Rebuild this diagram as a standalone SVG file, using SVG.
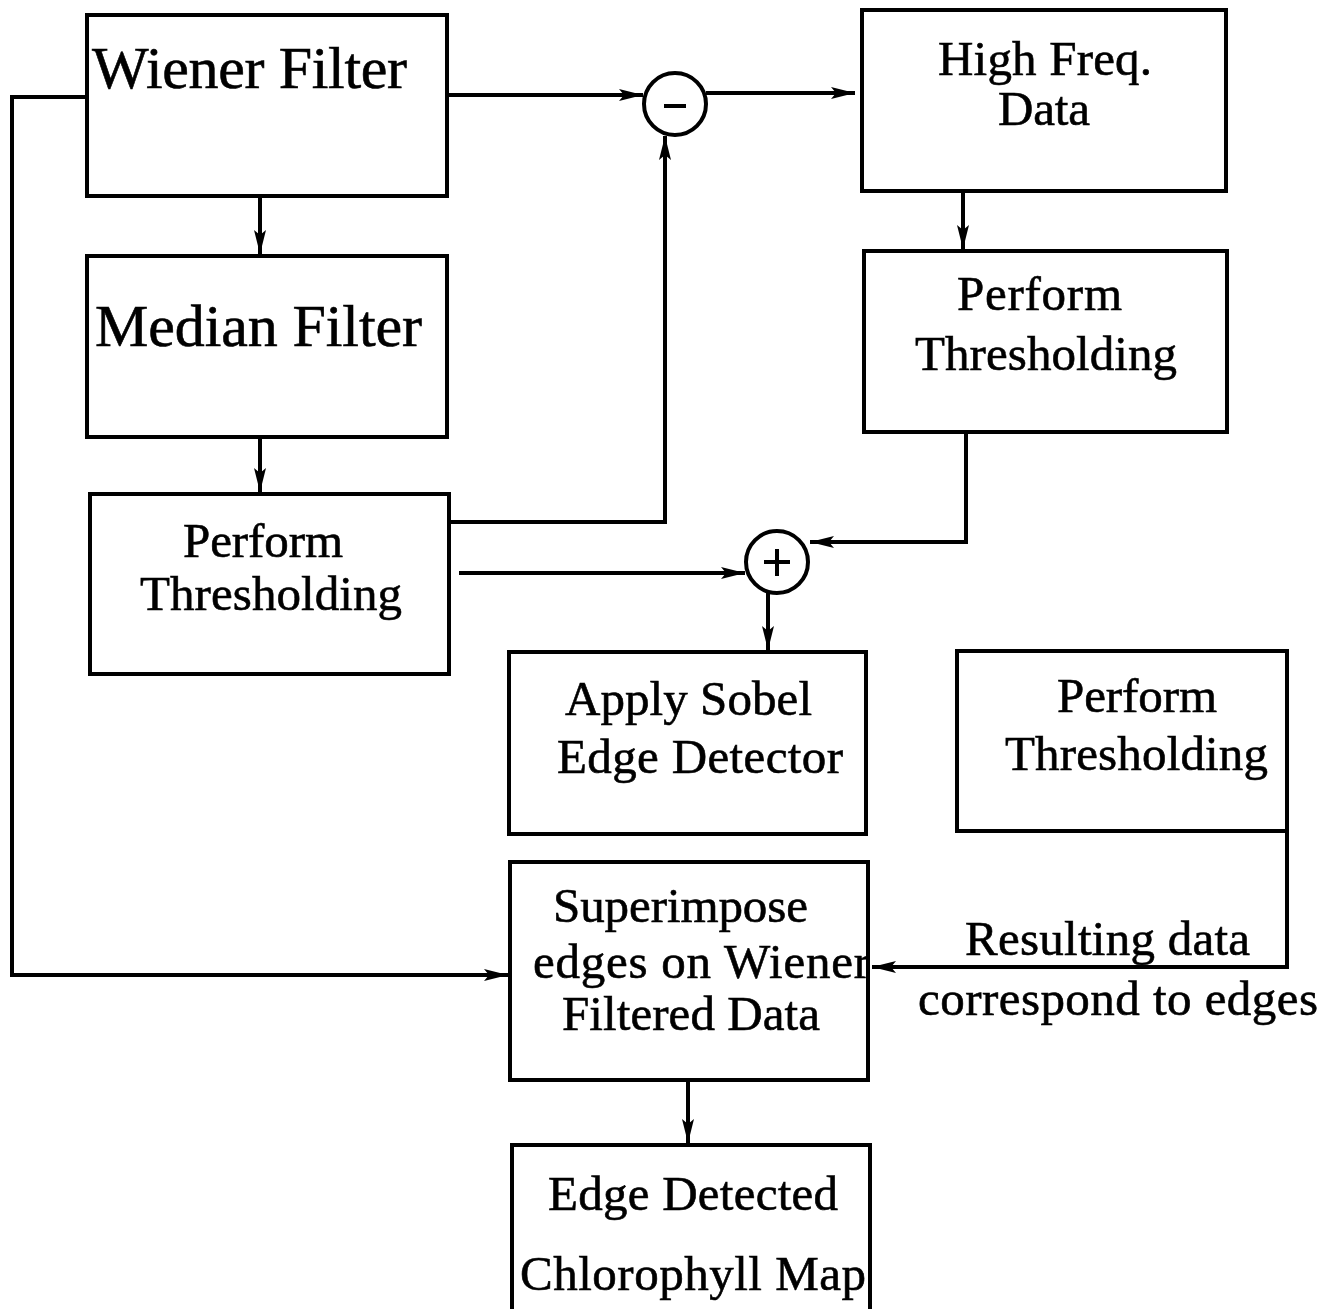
<svg xmlns="http://www.w3.org/2000/svg" width="1335" height="1309" viewBox="0 0 1335 1309">
<style>
.box{fill:#fff;stroke:#000;stroke-width:4}
.ln{fill:none;stroke:#000;stroke-width:4}
.t{font-family:"Liberation Serif","Times New Roman",serif;font-size:49px;fill:#000;stroke:#000;stroke-width:0.6}
.big{font-size:60px}
</style>
<defs>
<marker id="ah" markerUnits="userSpaceOnUse" markerWidth="26" markerHeight="16" refX="24" refY="8" orient="auto">
<path d="M0,2 L24,8 L0,14 L5,8 Z" fill="#000"/>
</marker>
</defs>
<rect width="1335" height="1309" fill="#fff"/>
<g id="connectors">
<path class="ln" d="M447,95 H643" marker-end="url(#ah)"/>
<path class="ln" d="M706,93 H855" marker-end="url(#ah)"/>
<path class="ln" d="M449,522 H665 V136" marker-end="url(#ah)"/>
<path class="ln" d="M260,196 V254" marker-end="url(#ah)"/>
<path class="ln" d="M260,437 V492" marker-end="url(#ah)"/>
<path class="ln" d="M963,191 V249" marker-end="url(#ah)"/>
<path class="ln" d="M966,432 V542 H810" marker-end="url(#ah)"/>
<path class="ln" d="M459,573 H745" marker-end="url(#ah)"/>
<path class="ln" d="M768,592 V650" marker-end="url(#ah)"/>
<path class="ln" d="M87,97 H12 V975 H508" marker-end="url(#ah)"/>
<path class="ln" d="M1287,831 V967 H872" marker-end="url(#ah)"/>
<path class="ln" d="M688,1080 V1143" marker-end="url(#ah)"/>
</g>
<g id="minus">
<circle cx="675" cy="104" r="31" class="box"/>
<path class="ln" d="M664,106 H686"/>
</g>
<g id="plus">
<circle cx="777" cy="562" r="31" class="box"/>
<path class="ln" d="M764,562 H790 M777,549 V576"/>
</g>
<g id="wiener">
<rect class="box" x="87" y="15" width="360" height="181"/>
<text class="t big" x="92" y="88" textLength="315">Wiener Filter</text>
</g>
<g id="median">
<rect class="box" x="87" y="256" width="360" height="181"/>
<text class="t big" x="95" y="346" textLength="327">Median Filter</text>
</g>
<g id="pt-left">
<rect class="box" x="90" y="494" width="359" height="180"/>
<text class="t" x="183" y="557" textLength="160">Perform</text>
<text class="t" x="140" y="610" textLength="262">Thresholding</text>
</g>
<g id="highfreq">
<rect class="box" x="862" y="10" width="364" height="181"/>
<text class="t" x="938" y="75" textLength="214">High Freq.</text>
<text class="t" x="998" y="125" textLength="92">Data</text>
</g>
<g id="pt-right">
<rect class="box" x="864" y="251" width="363" height="181"/>
<text class="t" x="957" y="310" textLength="165">Perform</text>
<text class="t" x="915" y="370" textLength="262">Thresholding</text>
</g>
<g id="sobel">
<rect class="box" x="509" y="652" width="357" height="182"/>
<text class="t" x="565" y="715" textLength="247">Apply Sobel</text>
<text class="t" x="557" y="773" textLength="286">Edge Detector</text>
</g>
<g id="pt-bottom">
<rect class="box" x="957" y="651" width="330" height="180"/>
<text class="t" x="1057" y="712" textLength="160">Perform</text>
<text class="t" x="1005" y="770" textLength="263">Thresholding</text>
</g>
<g id="superimpose">
<rect class="box" x="510" y="862" width="358" height="218"/>
<text class="t" x="553" y="922" textLength="255">Superimpose</text>
<text class="t" x="533" y="978" textLength="337">edges on Wiener</text>
<text class="t" x="562" y="1030" textLength="258">Filtered Data</text>
</g>
<g id="chlorophyll">
<rect class="box" x="512" y="1145" width="358" height="170"/>
<text class="t" x="548" y="1210" textLength="290">Edge Detected</text>
<text class="t" x="520" y="1290" textLength="346">Chlorophyll Map</text>
</g>
<g id="label">
<text class="t" x="965" y="955" textLength="285">Resulting data</text>
<text class="t" x="918" y="1015" textLength="400">correspond to edges</text>
</g>
</svg>
